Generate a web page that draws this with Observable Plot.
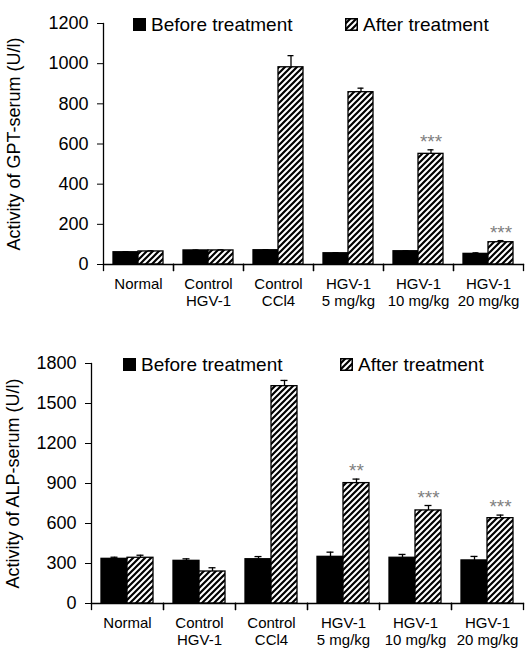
<!DOCTYPE html>
<html>
<head>
<meta charset="utf-8">
<script src="https://cdn.jsdelivr.net/npm/d3@7"></script>
<script src="https://cdn.jsdelivr.net/npm/@observablehq/plot@0.6"></script>
<style>
  body { margin: 0; background: white; font-family: "Liberation Sans", Arial, sans-serif; }
  .panel { position: relative; width: 528px; }
  .leg { position: absolute; display: flex; align-items: center; font-size: 19px; line-height: 1; color: black; white-space: nowrap; }
  .leg svg { margin-right: 5px; }
</style>
</head>
<body>
<svg width="0" height="0" style="position:absolute">
  <defs>
    <pattern id="hatch" patternUnits="userSpaceOnUse" width="6" height="6">
      <rect width="6" height="6" fill="white"></rect>
      <path d="M-1,1 l2,-2 M0,6 l6,-6 M5,7 l2,-2" stroke="black" stroke-width="2.2"></path>
    </pattern>
  </defs>
</svg>
<div id="top" class="panel"></div>
<div id="bottom" class="panel"></div>
<script>
// ---- data ----
const groups = ["Normal", "Control\nHGV-1", "Control\nCCl4", "HGV-1\n5 mg/kg", "HGV-1\n10 mg/kg", "HGV-1\n20 mg/kg"];
const seriesNames = ["Before treatment", "After treatment"];

const gptBefore    = [61, 70, 71, 56, 66, 53];
const gptBeforeErr = [3, 2, 3, 3, 2, 5];
const gptAfter     = [65, 70, 982, 858, 551, 111];
const gptAfterErr  = [3, 3, 58, 20, 20, 8];
const gptSig       = ["", "", "", "", "***", "***"];
const gptTicks     = [0, 200, 400, 600, 800, 1000, 1200];

const alpBefore    = [335, 320, 332, 350, 343, 323];
const alpBeforeErr = [12, 15, 20, 35, 25, 30];
const alpAfter     = [343, 240, 1630, 903, 698, 640];
const alpAfterErr  = [19, 28, 43, 30, 37, 23];
const alpSig       = ["", "", "", "**", "***", "***"];
const alpTicks     = [0, 300, 600, 900, 1200, 1500, 1800];

function rowsOf(before, beforeErr, after, afterErr, sig) {
  const rows = [];
  groups.forEach((g, i) => {
    rows.push({group: g, series: "Before", value: before[i], err: beforeErr[i], sig: ""});
    rows.push({group: g, series: "After", value: after[i], err: afterErr[i], sig: sig[i]});
  });
  return rows;
}

function chart(rows, o) {
  const plotH = o.height - o.marginTop - o.marginBottom;
  const top = d => d.value + d.err;
  return Plot.plot({
    width: 528,
    height: o.height,
    marginTop: o.marginTop,
    marginBottom: o.marginBottom,
    marginLeft: o.marginLeft,
    marginRight: o.marginRight,
    style: {fontFamily: "'Liberation Sans', Arial, sans-serif", fontSize: "15px", color: "black", background: "white", overflow: "visible"},
    fx: {domain: groups, padding: 0},
    x: {domain: ["Before", "After"], paddingInner: 0, paddingOuter: 0.37, axis: null},
    y: {domain: [0, o.yMax]},
    color: {type: "ordinal", domain: ["Before", "After"], range: ["black", "url(#hatch)"]},
    marks: [
      Plot.barY(rows, {fx: "group", x: "series", y: "value", fill: "series", stroke: "black", strokeWidth: 1.3}),
      Plot.ruleX(rows, {fx: "group", x: "series", y1: "value", y2: top, stroke: "black", strokeWidth: 1.3}),
      Plot.tickY(rows, {fx: "group", x: "series", y: top, insetLeft: 9.5, insetRight: 9.5, stroke: "black", strokeWidth: 1.3}),
      Plot.text(rows.filter(d => d.sig), {fx: "group", x: "series", y: top, text: "sig", lineAnchor: "bottom", dy: -2, fill: "#808080", fontSize: 19}),
      Plot.frame({anchor: "bottom", strokeWidth: 1.3}),
      Plot.frame({anchor: "left", insetTop: plotH, insetBottom: -6, strokeWidth: 1.3}),
      Plot.frame({anchor: "right", insetTop: plotH, insetBottom: -6, strokeWidth: 1.3}),
      Plot.frame({anchor: "left", facetAnchor: "left", strokeWidth: 1.3}),
      Plot.axisY(o.ticks, {tickSize: 6, tickPadding: 9, fontSize: 18, tickFormat: d => String(d), label: o.yLabel, labelAnchor: "center", labelOffset: o.labelOffset, labelArrow: "none"}),
      Plot.axisFx({anchor: "bottom", tickSize: 0, tickPadding: 12, fontSize: 15, label: null, lineHeight: 1.15})
    ]
  });
}

function legend(panel, items) {
  items.forEach(([left, top, fill, text]) => {
    const div = document.createElement("div");
    div.className = "leg";
    div.style.left = left + "px";
    div.style.top = top + "px";
    div.innerHTML = `<svg width="13" height="13"><rect x="0.75" y="0.75" width="11.5" height="11.5" fill="${fill}" stroke="black" stroke-width="1.5"></rect></svg><span>${text}</span>`;
    panel.appendChild(div);
  });
}

const topPanel = document.getElementById("top");
topPanel.appendChild(chart(rowsOf(gptBefore, gptBeforeErr, gptAfter, gptAfterErr, gptSig), {
  height: 330, marginTop: 23, marginBottom: 66, marginLeft: 101, marginRight: 4,
  yMax: 1200, ticks: gptTicks, yLabel: "Activity of GPT-serum (U/l)", labelOffset: 96
}));
legend(topPanel, [[133, 15, "black", seriesNames[0]], [345, 15, "url(#hatch)", seriesNames[1]]]);

const bottomPanel = document.getElementById("bottom");
bottomPanel.appendChild(chart(rowsOf(alpBefore, alpBeforeErr, alpAfter, alpAfterErr, alpSig), {
  height: 320, marginTop: 33, marginBottom: 47, marginLeft: 90, marginRight: 4,
  yMax: 1800, ticks: alpTicks, yLabel: "Activity of ALP-serum (U/l)", labelOffset: 85
}));
legend(bottomPanel, [[123, 25, "black", seriesNames[0]], [340, 25, "url(#hatch)", seriesNames[1]]]);
</script>
</body>
</html>
